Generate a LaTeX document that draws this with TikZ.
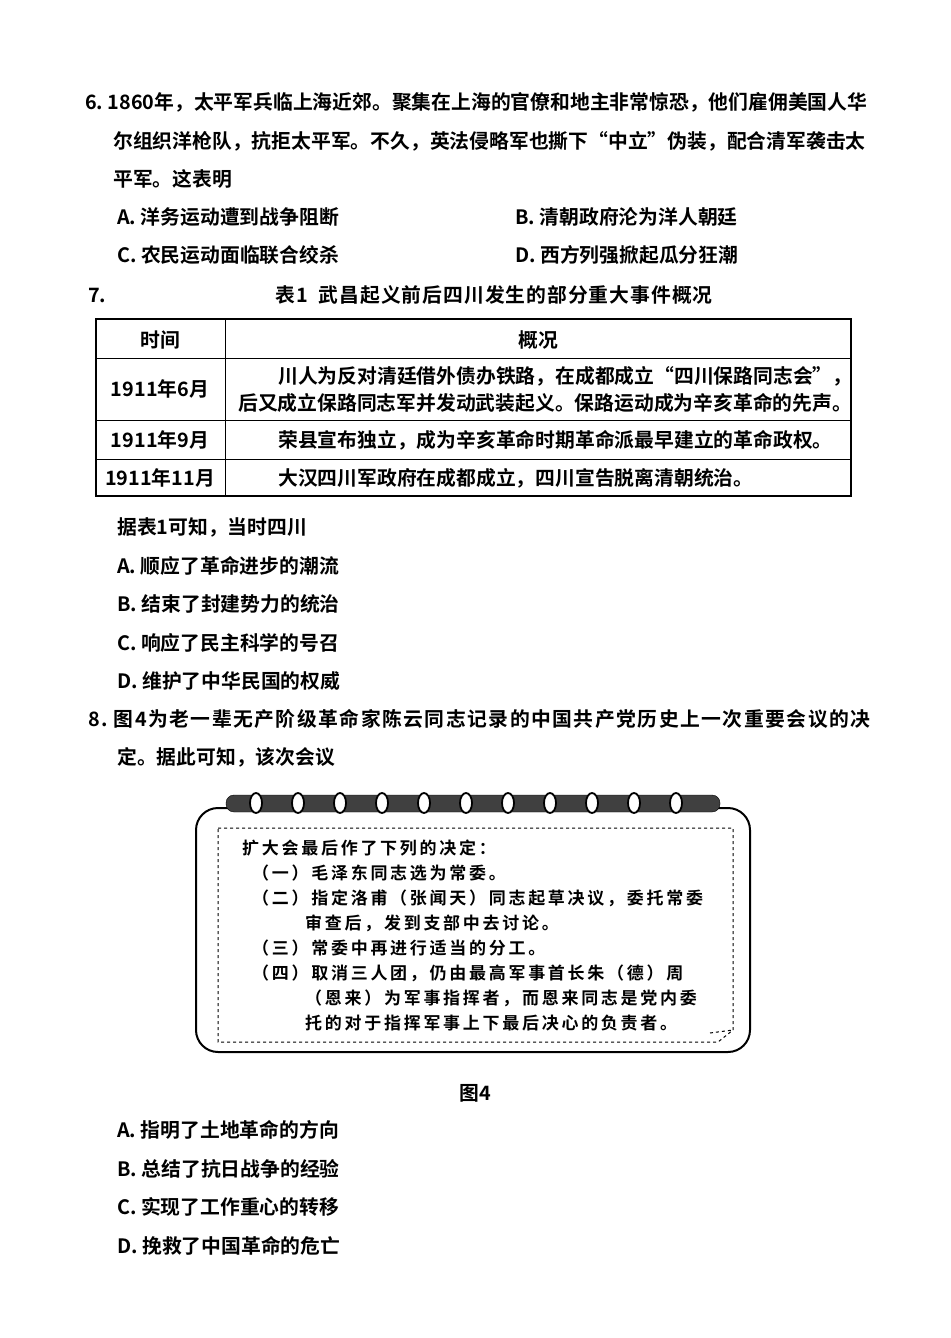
\documentclass[tikz,border=0pt]{standalone}
\usepackage{fontspec}
\setmainfont{Noto Sans CJK SC}[BoldFont={Noto Sans CJK SC Bold}]
\usetikzlibrary{positioning}
\begin{document}
\begin{tikzpicture}[x=1pt,y=-1pt,
                every node/.style={font=\fontsize{19.8}{22}\selectfont\bfseries, inner sep=0pt},
                line/.style={anchor=west},
                cell/.style={anchor=center},
                fig/.style={anchor=west, font=\fontsize{17}{19}\selectfont\bfseries\addfontfeature{LetterSpace=16}},
                ]

                \useasboundingbox (0,0) rectangle (950,1338);

                % question 6
                \node [line] (q6a) at (85,102) {6.\ 1860年，太平军兵临上海近郊。聚集在上海的官僚和地主非常惊恐，他们雇佣美国人华};
                \node [line] (q6b) at (113,141) {尔组织洋枪队，抗拒太平军。不久，英法侵略军也撕下“中立”伪装，配合清军袭击太};
                \node [line] (q6c) at (113,179) {平军。这表明};
                \node [line] (q6A) at (117,217) {A.\ 洋务运动遭到战争阻断};
                \node [line] (q6B) at (515,217) {B.\ 清朝政府沦为洋人朝廷};
                \node [line] (q6C) at (117,255) {C.\ 农民运动面临联合绞杀};
                \node [line] (q6D) at (515,255) {D.\ 西方列强掀起瓜分狂潮};

                % question 7
                \node [line] (q7) at (88,295) {7.};
                \node [cell] (title) at (494,295) {\addfontfeature{LetterSpace=5}表1\ \ 武昌起义前后四川发生的部分重大事件概况};
                \draw [line width=1.4pt] (96,319) rectangle (851,496);
                \draw [line width=1pt] (225,319) -- (225,496);
                \foreach \y in {358,420,459} \draw [line width=1pt] (96,\y) -- (851,\y);
                \node [cell] (hTime) at (160,340) {时间};
                \node [cell] (hText) at (538,340) {概况};
                \node [cell] (t1) at (160,389) {1911年6月};
                \node [line] (r1a) at (278,376) {川人为反对清廷借外债办铁路，在成都成立“四川保路同志会”，};
                \node [line] (r1b) at (238,403) {后又成立保路同志军并发动武装起义。保路运动成为辛亥革命的先声。};
                \node [cell] (t2) at (160,440) {1911年9月};
                \node [line] (r2) at (278,440) {荣县宣布独立，成为辛亥革命时期革命派最早建立的革命政权。};
                \node [cell] (t3) at (160,478) {1911年11月};
                \node [line] (r3) at (278,478) {大汉四川军政府在成都成立，四川宣告脱离清朝统治。};

                \node [line] (q7s) at (117,527) {据表1可知，当时四川};
                \node [line] (q7A) at (117,566) {A.\ 顺应了革命进步的潮流};
                \node [line] (q7B) at (117,604) {B.\ 结束了封建势力的统治};
                \node [line] (q7C) at (117,643) {C.\ 响应了民主科学的号召};
                \node [line] (q7D) at (117,681) {D.\ 维护了中华民国的权威};

                % question 8
                \node [line] (q8a) at (88,719) {\addfontfeature{LetterSpace=7.5}8.\ 图4为老一辈无产阶级革命家陈云同志记录的中国共产党历史上一次重要会议的决};
                \node [line] (q8b) at (117,757) {定。据此可知，该次会议};

                % figure 4
                \draw [line width=2pt, rounded corners=22pt] (196,808) rectangle (750,1052);
                \draw [fill=black!75, rounded corners=8pt] (226,795) rectangle (720,812);
                \foreach \i in {0,...,10}
                        \draw [line width=1.8pt, fill=white] (256+\i*42,803) ellipse (6pt and 10pt);
                \draw [dashed, line width=1pt] (218,828) -- (733,828) -- (733,1030) -- (718,1042) -- (218,1042) -- cycle;
                \draw [dashed, line width=1pt] (710,1033) -- (733,1030);
                \node [fig] (f0) at (242,848) {扩大会最后作了下列的决定：};
                \node [fig] (f1) at (252,873) {（一）毛泽东同志选为常委。};
                \node [fig] (f2) at (252,898) {（二）指定洛甫（张闻天）同志起草决议，委托常委};
                \node [fig] (f3) at (305,923) {审查后，发到支部中去讨论。};
                \node [fig] (f4) at (252,948) {（三）常委中再进行适当的分工。};
                \node [fig] (f5) at (252,973) {（四）取消三人团，仍由最高军事首长朱（德）周};
                \node [fig] (f6) at (305,998) {（恩来）为军事指挥者，而恩来同志是党内委};
                \node [fig] (f7) at (305,1023) {托的对于指挥军事上下最后决心的负责者。};
                \node [cell] (cap) at (475,1093) {图4};

                \node [line] (q8A) at (117,1130) {A.\ 指明了土地革命的方向};
                \node [line] (q8B) at (117,1169) {B.\ 总结了抗日战争的经验};
                \node [line] (q8C) at (117,1207) {C.\ 实现了工作重心的转移};
                \node [line] (q8D) at (117,1246) {D.\ 挽救了中国革命的危亡};

\end{tikzpicture}
\end{document}
